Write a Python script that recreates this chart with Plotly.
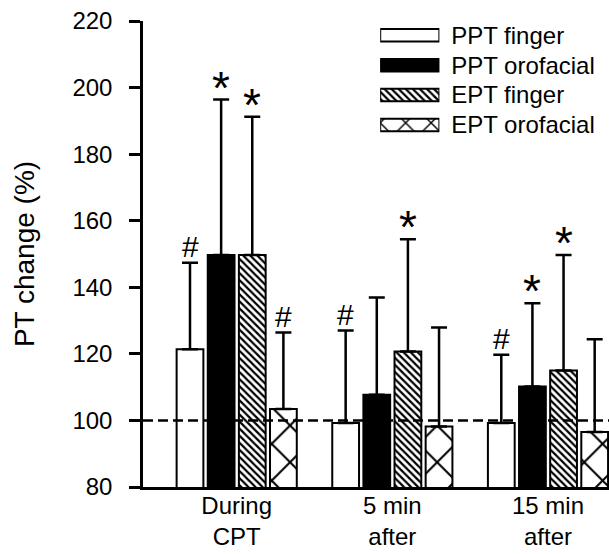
import plotly.graph_objects as go

# ---- data ----
categories = ["During<br>CPT", "5 min<br>after", "15 min<br>after"]
series = ["PPT finger", "PPT orofacial", "EPT finger", "EPT orofacial"]
ppt_finger = [121.4, 99.2, 99.2]
ppt_orofacial = [149.7, 107.7, 110.2]
ept_finger = [149.7, 120.7, 115.0]
ept_orofacial = [103.4, 98.2, 96.5]
sd_ppt_finger = [26.0, 27.8, 20.5]
sd_ppt_orofacial = [46.7, 29.2, 25.0]
sd_ept_finger = [41.5, 33.7, 34.7]
sd_ept_orofacial = [23.0, 29.7, 27.9]
sig_ppt_finger = ["#", "#", "#"]
sig_ppt_orofacial = ["*", "", "*"]
sig_ept_finger = ["*", "*", "*"]
sig_ept_orofacial = ["#", "", ""]
y_ticks = [80, 100, 120, 140, 160, 180, 200, 220]
baseline = 100

means = [ppt_finger, ppt_orofacial, ept_finger, ept_orofacial]
sds = [sd_ppt_finger, sd_ppt_orofacial, sd_ept_finger, sd_ept_orofacial]
sigs = [sig_ppt_finger, sig_ppt_orofacial, sig_ept_finger, sig_ept_orofacial]

# ---- styles ----
FONT = "Liberation Sans, Arial, sans-serif"
fills = ["white", "black", "white", "white"]
shapes_ = ["", "", "\\", "x"]
pat_size = [8, 8, 5, 26]
pat_sol = [0.3, 0.3, 0.45, 0.15]
leg_pat_size = [8, 8, 5, 18]

BARGAP = 0.2
n = len(series)
slot = (1 - BARGAP) / n
xg = list(range(len(categories)))


def marker_for(i, psize):
    m = dict(color=fills[i], line=dict(color="black", width=2))
    if shapes_[i]:
        m["pattern"] = dict(shape=shapes_[i], fgcolor="black", bgcolor="white",
                            size=psize, solidity=pat_sol[i], fillmode="replace")
    return m


fig = go.Figure()
for i in range(n):
    fig.add_trace(go.Bar(
        x=xg, y=means[i], name=series[i], showlegend=False,
        marker=marker_for(i, pat_size[i]),
        error_y=dict(type="data", symmetric=False, array=sds[i],
                     arrayminus=[0] * len(xg), color="black", thickness=2.5, width=8),
    ))

# legend built as a small keyed bar panel (one bar per series)
for i in range(n):
    fig.add_trace(go.Bar(
        x=[1], y=[series[i]], orientation="h", xaxis="x2", yaxis="y2", showlegend=False,
        width=0.42, hoverinfo="skip", offsetgroup="legend",
        marker=marker_for(i, leg_pat_size[i]),
    ))

# significance marks
for i in range(n):
    for g in xg:
        s = sigs[i][g]
        if not s:
            continue
        star = s == "*"
        fig.add_annotation(
            x=g + (i - (n - 1) / 2) * slot, y=means[i][g] + sds[i][g],
            text=s, showarrow=False, yanchor="bottom", xanchor="center",
            yshift=-16 if star else -2,
            font=dict(family=FONT, size=46 if star else 30, color="black"),
        )

# baseline dashed line
fig.add_shape(type="line", xref="paper", x0=0, x1=1, yref="y", y0=baseline, y1=baseline,
              line=dict(color="black", width=2.5, dash="10px,5px"), layer="above")

fig.update_layout(
    width=609, height=554,
    margin=dict(l=143, r=0, t=21, b=67),
    paper_bgcolor="white", plot_bgcolor="white",
    barmode="group", bargap=BARGAP, bargroupgap=0.14,
    font=dict(family=FONT, size=24, color="black"),
    showlegend=False,
    xaxis=dict(range=[-0.602, 2.392], tickvals=xg, ticktext=categories, automargin=False,
               showline=True, linecolor="black", linewidth=2.5, ticks="",
               ticklabelstandoff=-5, ticklabeloverflow="allow",
               showgrid=False, zeroline=False, tickfont=dict(size=24)),
    yaxis=dict(range=[80, 220], tickvals=y_ticks, showline=True, linecolor="black",
               automargin=False, linewidth=2.5, ticks="outside", ticklen=11, tickwidth=2.5,
               tickcolor="black", ticklabelstandoff=12, ticklabeloverflow="allow",
               showgrid=False, zeroline=False, tickfont=dict(size=24),
               title=dict(text="PT change (%)", font=dict(size=28), standoff=30)),
    xaxis2=dict(domain=[0.509, 0.636], range=[0, 1], visible=False, anchor="y2",
                automargin=False),
    yaxis2=dict(domain=[0.745, 1], range=[3.5, -0.48], anchor="x2", side="right",
                showline=False, showgrid=False, zeroline=False, automargin=False,
                ticks="outside", ticklen=6, tickcolor="rgba(0,0,0,0)",
                ticklabeloverflow="allow", tickfont=dict(size=24)),
)

fig.write_html(
    "out.html",
    config={"displayModeBar": False},
    post_script="document.body.style.margin='0';document.body.style.overflow='hidden';",
)
